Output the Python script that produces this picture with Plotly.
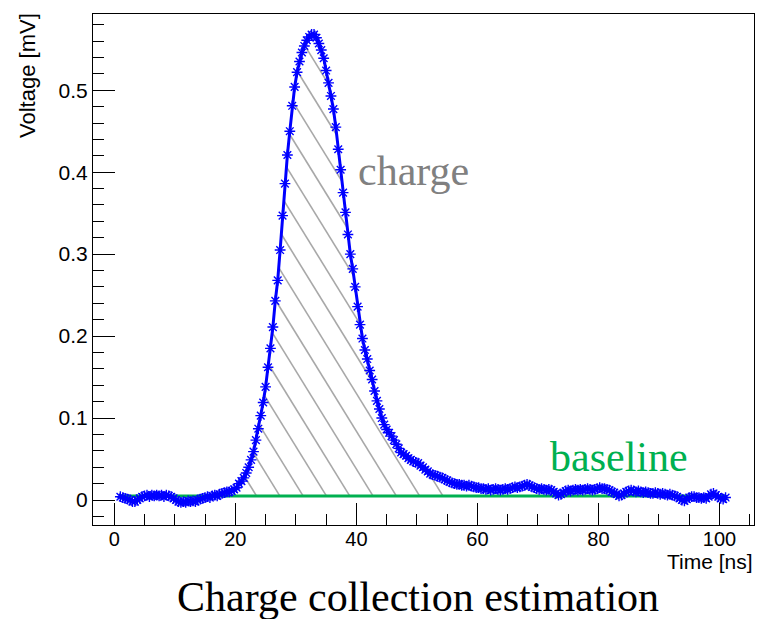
import numpy as np
import plotly.graph_objects as go

# ---------------- data ----------------
t_start = 1.0          # ns, first sample
t_step = 0.4           # ns, sampling period
voltage = [
    0.004, 0.003, 0.002, 0.001, 0.000, -0.002, -0.002, 0.000, 0.002, 0.004,
    0.005, 0.006, 0.004, 0.006, 0.005, 0.006, 0.005, 0.006, 0.004, 0.006,
    0.005, 0.004, 0.002, 0.000, -0.002, -0.003, -0.002, -0.003, -0.001, -0.002,
    -0.001, -0.002, 0.000, 0.001, 0.002, 0.003, 0.004, 0.003, 0.005, 0.006,
    0.005, 0.007, 0.008, 0.009, 0.010, 0.010, 0.011, 0.013, 0.015, 0.020,
    0.023, 0.027, 0.033, 0.040, 0.049, 0.059, 0.073, 0.087, 0.103, 0.119,
    0.138, 0.162, 0.185, 0.211, 0.243, 0.268, 0.305, 0.347, 0.386, 0.421,
    0.450, 0.481, 0.504, 0.522, 0.535, 0.546, 0.554, 0.561, 0.565, 0.568,
    0.568, 0.564, 0.557, 0.549, 0.539, 0.524, 0.509, 0.493, 0.477, 0.455,
    0.428, 0.403, 0.375, 0.351, 0.324, 0.300, 0.282, 0.260, 0.236, 0.214,
    0.197, 0.183, 0.172, 0.158, 0.147, 0.133, 0.121, 0.111, 0.100, 0.092,
    0.086, 0.082, 0.078, 0.073, 0.068, 0.063, 0.058, 0.056, 0.054, 0.051,
    0.049, 0.047, 0.046, 0.045, 0.042, 0.040, 0.037, 0.035, 0.032, 0.031,
    0.030, 0.029, 0.028, 0.027, 0.025, 0.024, 0.022, 0.021, 0.020, 0.019,
    0.019, 0.018, 0.018, 0.017, 0.018, 0.017, 0.016, 0.015, 0.015, 0.014,
    0.014, 0.013, 0.014, 0.012, 0.013, 0.014, 0.013, 0.012, 0.013, 0.014,
    0.013, 0.014, 0.015, 0.016, 0.015, 0.016, 0.017, 0.018, 0.019, 0.018,
    0.016, 0.015, 0.014, 0.013, 0.014, 0.013, 0.012, 0.013, 0.012, 0.010,
    0.008, 0.006, 0.007, 0.009, 0.011, 0.012, 0.011, 0.012, 0.013, 0.012,
    0.013, 0.012, 0.013, 0.014, 0.013, 0.012, 0.013, 0.014, 0.015, 0.014,
    0.014, 0.013, 0.012, 0.010, 0.009, 0.007, 0.005, 0.006, 0.008, 0.010,
    0.011, 0.012, 0.011, 0.010, 0.011, 0.010, 0.009, 0.010, 0.009, 0.008,
    0.008, 0.009, 0.008, 0.007, 0.008, 0.007, 0.006, 0.007, 0.006, 0.005,
    0.004, 0.002, 0.000, -0.001, 0.001, 0.003, 0.004, 0.004, 0.003, 0.003,
    0.002, 0.003, 0.002, 0.004, 0.007, 0.008, 0.006, 0.004, 0.002, 0.001, 0.003,
]
time = [round(t_start + t_step * i, 3) for i in range(len(voltage))]

baseline_level = 0.005          # mV
charge_window = [20.0, 55.0]    # ns, integration window (hatched)
hatch_anchor = 23.5             # ns, one hatch line meets baseline here

x_tickvals = [0, 20, 40, 60, 80, 100]
y_tickvals = [0, 0.1, 0.2, 0.3, 0.4, 0.5]
x_range = [-3.52, 105.7]
y_range = [-0.0305, 0.593]

title_text = "Charge collection estimation"
x_title = "Time [ns]"
y_title = "Voltage [mV]"
charge_label = "charge"
baseline_label = "baseline"

# ---------------- layout geometry / style ----------------
W, H = 759, 619
ML, MR, MT, MB = 93, 5, 14, 94
plot_w = W - ML - MR
plot_h = H - MT - MB

BLUE = "#0000ff"
GREEN = "#00b050"
GRAY_TXT = "#808080"
HATCH_COL = "#a8a8a8"
HATCH_SLOPE_PX = 1.62   # px down per px right
HATCH_STEP_PX = 23.3    # horizontal spacing of hatch lines (px)

SANS = "Liberation Sans, Arial, sans-serif"
SERIF = "Liberation Serif, Times New Roman, serif"

# ---------------- hatch lines (clipped to region between curve and baseline) ----------------
t_arr = np.array(time)
v_arr = np.array(voltage)
px_per_ns = plot_w / (x_range[1] - x_range[0])
px_per_mv = plot_h / (y_range[1] - y_range[0])
m = HATCH_SLOPE_PX * px_per_ns / px_per_mv
dc = HATCH_STEP_PX / px_per_ns

tt = np.arange(charge_window[0], charge_window[1] + 1e-9, 0.01)
curve = np.interp(tt, t_arr, v_arr)
c_max = charge_window[1] + (v_arr.max() - baseline_level) / m + dc
k_min = int(np.floor((charge_window[0] - hatch_anchor) / dc)) - 1
k_max = int(np.ceil((c_max - hatch_anchor) / dc)) + 1
hx, hy = [], []
for k in range(k_min, k_max + 1):
    c = hatch_anchor + k * dc
    vl = baseline_level + m * (c - tt)
    inside = (vl >= baseline_level) & (vl <= curve)
    d = np.diff(np.concatenate([[0], inside.astype(int), [0]]))
    starts = np.where(d == 1)[0]
    ends = np.where(d == -1)[0] - 1
    for s, e in zip(starts, ends):
        if e - s < 1:
            continue
        hx += [tt[s], tt[e], None]
        hy += [vl[s], vl[e], None]

fig = go.Figure()
fig.add_trace(go.Scatter(x=hx, y=hy, mode="lines",
                         line=dict(color=HATCH_COL, width=1.6),
                         hoverinfo="skip", showlegend=False))
fig.add_trace(go.Scatter(x=[time[0], time[-1]], y=[baseline_level, baseline_level],
                         mode="lines", line=dict(color=GREEN, width=3),
                         showlegend=False))
fig.add_trace(go.Scatter(x=time, y=voltage, mode="lines+markers",
                         line=dict(color=BLUE, width=3),
                         marker=dict(symbol="asterisk-open", size=9,
                                     color=BLUE, line=dict(color=BLUE, width=1.4)),
                         showlegend=False))

axis_common = dict(showline=True, mirror=True, linecolor="black", linewidth=1,
                   ticks="inside", ticklen=22, tickwidth=1, tickcolor="black",
                   showgrid=False, zeroline=False)

fig.update_xaxes(range=x_range, tickmode="array", tickvals=x_tickvals,
                 tickfont=dict(family=SANS, size=20, color="black"),
                 ticklabelstandoff=-4,
                 minor=dict(dtick=5, tick0=0, ticklen=11, ticks="inside",
                            tickcolor="black", tickwidth=1),
                 **axis_common)
fig.update_yaxes(range=y_range, tickmode="array", tickvals=y_tickvals,
                 tickfont=dict(family=SANS, size=21, color="black"),
                 minor=dict(dtick=0.02, tick0=0, ticklen=11, ticks="inside",
                            tickcolor="black", tickwidth=1),
                 **axis_common)

def px_x(p):
    return (p - ML) / plot_w

def px_y(p):
    return (H - MB - p) / plot_h

annotations = [
    dict(text=y_title, textangle=-90, x=px_x(27.5), y=px_y(11), xref="paper", yref="paper",
         xanchor="center", yanchor="top", showarrow=False,
         font=dict(family=SANS, size=22, color="black")),
    dict(text=x_title, x=px_x(755), y=px_y(561), xref="paper", yref="paper",
         xanchor="right", yanchor="middle", showarrow=False,
         font=dict(family=SANS, size=21, color="black")),
    dict(text=title_text, x=px_x(417.5), y=px_y(597), xref="paper", yref="paper",
         xanchor="center", yanchor="middle", showarrow=False,
         font=dict(family=SERIF, size=42, color="black")),
    dict(text=charge_label, x=px_x(413), y=px_y(171), xref="paper", yref="paper",
         xanchor="center", yanchor="middle", showarrow=False,
         font=dict(family=SERIF, size=42, color=GRAY_TXT)),
    dict(text=baseline_label, x=px_x(619), y=px_y(457), xref="paper", yref="paper",
         xanchor="center", yanchor="middle", showarrow=False,
         font=dict(family=SERIF, size=42, color=GREEN)),
]

fig.update_layout(width=W, height=H,
                  margin=dict(l=ML, r=MR, t=MT, b=MB, pad=0),
                  paper_bgcolor="white", plot_bgcolor="white",
                  annotations=annotations, showlegend=False)

fig.write_html("out.html",
               config={"displayModeBar": False},
               post_script="document.body.style.margin='0';"
                           "document.body.style.padding='0';"
                           "document.body.style.overflow='hidden';")
